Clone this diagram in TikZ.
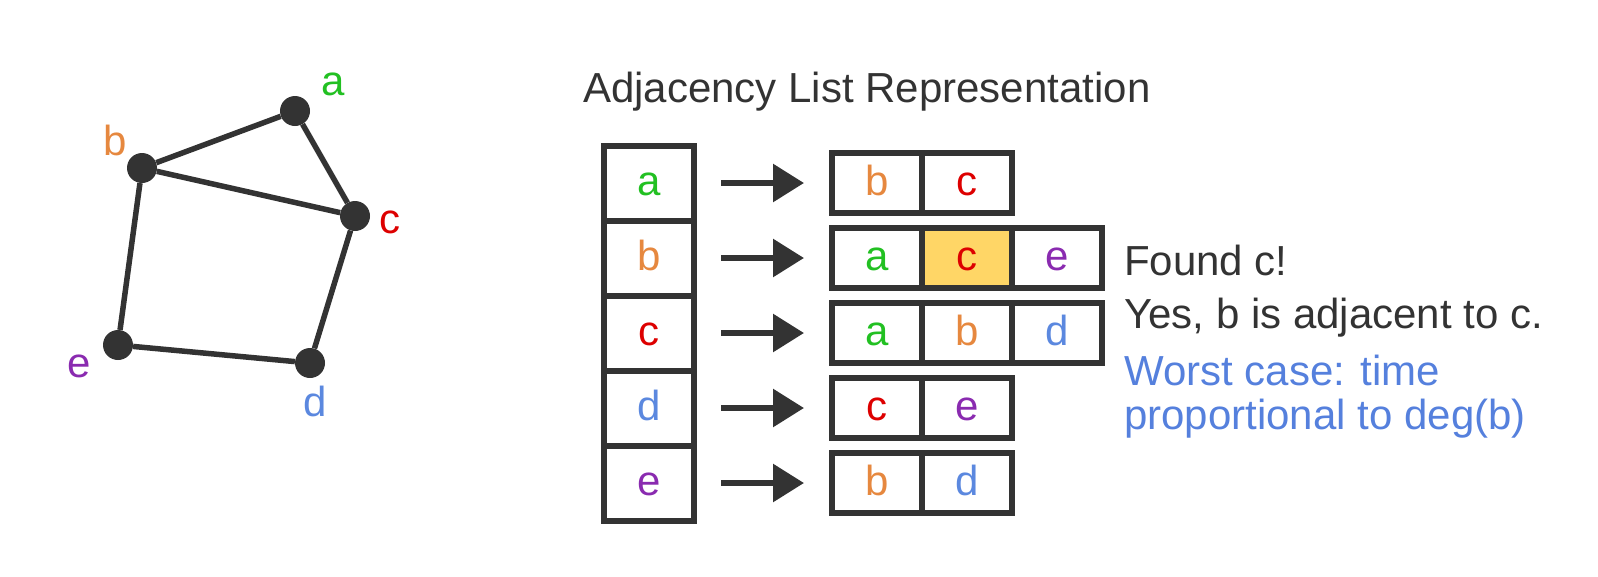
\documentclass[tikz,border=0pt]{standalone}
\usepackage{fontspec}
\setmainfont{Liberation Sans}
\usetikzlibrary{arrows.meta}
\definecolor{dk}{HTML}{333333}
\definecolor{cg}{HTML}{22C022}
\definecolor{co}{HTML}{E6883F}
\definecolor{cr}{HTML}{DD0000}
\definecolor{cb}{HTML}{5B88DF}
\definecolor{cp}{HTML}{8A2BB0}
\definecolor{yl}{HTML}{FFD666}
\definecolor{tb}{HTML}{5580DD}
\begin{document}
\begin{tikzpicture}[x=1pt,y=-1pt,
  every node/.style={font=\fontsize{42}{50}\selectfont},
  vtx/.style={circle,fill=dk,minimum size=30pt,inner sep=0pt},
  edge/.style={draw=dk,line width=5.5pt},
  lcell/.style={draw=dk,line width=6pt,minimum width=90pt,minimum height=75pt,inner sep=0pt,outer sep=0pt},
  rcell/.style={draw=dk,line width=6pt,minimum width=90pt,minimum height=60pt,inner sep=0pt,outer sep=0pt},
  lbl/.style={anchor=base,inner sep=0pt},
  arr/.style={draw=dk,line width=6pt,-{Triangle[length=31pt,width=37pt]},shorten <=27pt,shorten >=28pt},
  txt/.style={anchor=base west,inner sep=0pt}]
\useasboundingbox (0,0) rectangle (1598,576);
% graph
\node[vtx] (a) at (295,111) {};
\node[vtx] (b) at (142,168) {};
\node[vtx] (c) at (355,216) {};
\node[vtx] (d) at (310,363) {};
\node[vtx] (e) at (118,345) {};
\draw[edge] (a) -- (b);
\draw[edge] (a) -- (c);
\draw[edge] (b) -- (c);
\draw[edge] (b) -- (e);
\draw[edge] (c) -- (d);
\draw[edge] (d) -- (e);
\node[lbl,text=cg] (la) at (333,95) {a};
\node[lbl,text=co] (lb) at (115,155) {b};
\node[lbl,text=cr] (lc) at (390,233) {c};
\node[lbl,text=cb] (ld) at (315,416) {d};
\node[lbl,text=cp] (le) at (79,377) {e};
% title
\node[txt,text=dk] (title) at (583,102) {Adjacency List Representation};
% left column
\node[lcell] (L1) at (649,183) {};
\node[lcell] (L2) at (649,258) {};
\node[lcell] (L3) at (649,333) {};
\node[lcell] (L4) at (649,408) {};
\node[lcell] (L5) at (649,483) {};
\node[lbl,text=cg] at (649,195) {a};
\node[lbl,text=co] at (649,270) {b};
\node[lbl,text=cr] at (649,345) {c};
\node[lbl,text=cb] at (649,420) {d};
\node[lbl,text=cp] at (649,495) {e};
% lists
\node[rcell] (A1) at (877,183) {};
\node[rcell] (A2) at (967,183) {};
\node[rcell] (B1) at (877,258) {};
\node[rcell,fill=yl] (B2) at (967,258) {};
\node[rcell] (B3) at (1057,258) {};
\node[rcell] (C1) at (877,333) {};
\node[rcell] (C2) at (967,333) {};
\node[rcell] (C3) at (1057,333) {};
\node[rcell] (D1) at (877,408) {};
\node[rcell] (D2) at (967,408) {};
\node[rcell] (E1) at (877,483) {};
\node[rcell] (E2) at (967,483) {};
\node[lbl,text=co] at (877,195) {b};
\node[lbl,text=cr] at (967,195) {c};
\node[lbl,text=cg] at (877,270) {a};
\node[lbl,text=cr] at (967,270) {c};
\node[lbl,text=cp] at (1057,270) {e};
\node[lbl,text=cg] at (877,345) {a};
\node[lbl,text=co] at (967,345) {b};
\node[lbl,text=cb] at (1057,345) {d};
\node[lbl,text=cr] at (877,420) {c};
\node[lbl,text=cp] at (967,420) {e};
\node[lbl,text=co] at (877,495) {b};
\node[lbl,text=cb] at (967,495) {d};
% arrows
\draw[arr] (L1.east) -- (A1.west);
\draw[arr] (L2.east) -- (B1.west);
\draw[arr] (L3.east) -- (C1.west);
\draw[arr] (L4.east) -- (D1.west);
\draw[arr] (L5.east) -- (E1.west);
% notes
\node[txt,text=dk] (t1) at (1124,275) {Found c!};
\node[txt,text=dk] (t2) at (1124,328) {Yes, b is adjacent to c.};
\node[txt,text=tb] (t3) at (1124,385) {Worst case: time};
\node[txt,text=tb] (t4) at (1124,429) {proportional to deg(b)};
\end{tikzpicture}
\end{document}
